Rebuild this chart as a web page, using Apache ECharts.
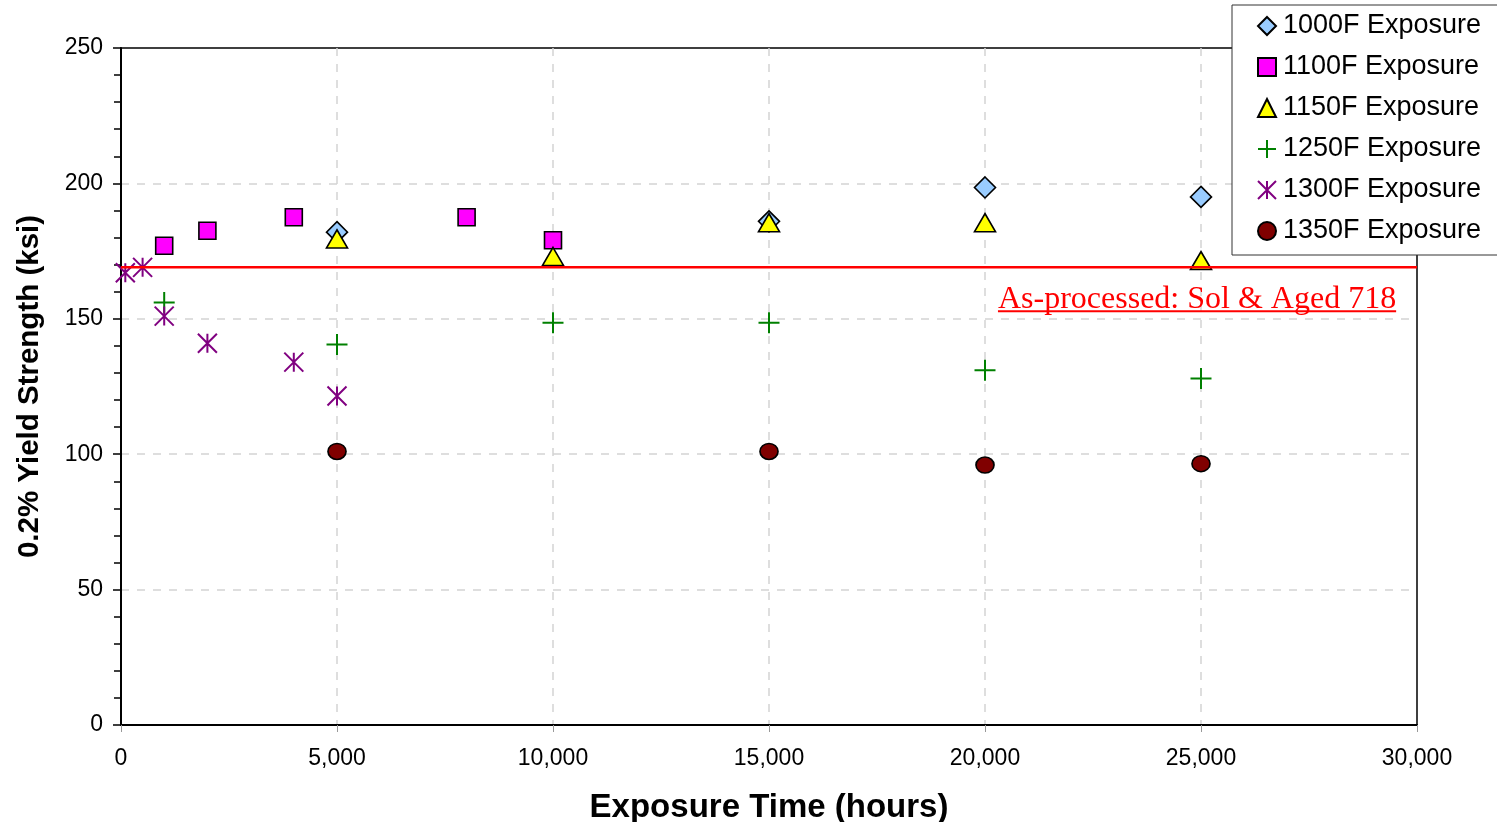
<!DOCTYPE html>
<html>
<head>
<meta charset="utf-8">
<script src="https://cdn.jsdelivr.net/npm/echarts@6/dist/echarts.min.js"></script>
<style>
  html, body { margin: 0; padding: 0; background: #fff; overflow: hidden; }
  #chart { width: 1497px; height: 822px; }
</style>
</head>
<body>
<div id="chart"></div>
<script>
// Yield strength of alloy 718 after long-term thermal exposure
const seriesNames = ['1000F Exposure', '1100F Exposure', '1150F Exposure',
                     '1250F Exposure', '1300F Exposure', '1350F Exposure'];

// [exposure hours, 0.2% yield strength ksi]
const exp1000F = [[5000, 182], [15000, 186], [20000, 198.5], [25000, 195]];
const exp1100F = [[1000, 177], [2000, 182.5], [4000, 187.5], [8000, 187.5], [10000, 179]];
const exp1150F = [[5000, 179.5], [10000, 173], [15000, 185.5], [20000, 185.5], [25000, 171.5]];
const exp1250F = [[1000, 156], [5000, 140.5], [10000, 148.5], [15000, 148.5], [20000, 131], [25000, 128]];
const exp1300F = [[100, 167], [500, 169], [1000, 151], [2000, 141], [4000, 134], [5000, 121.5]];
const exp1350F = [[5000, 101], [15000, 101], [20000, 96], [25000, 96.5]];

// As-processed (solution treated & aged) reference level
const asProcessedKsi = 169;
const asProcessedSpan = [0, 30000];
const asProcessedLabel = 'As-processed: Sol & Aged 718';

const xTicks = { min: 0, max: 30000, step: 5000 };
const yTicks = { min: 0, max: 250, step: 50 };

const SANS = '"Liberation Sans", Arial, sans-serif';
const SERIF = '"Liberation Serif", "Times New Roman", serif';

const PLUS = 'path://M10,0L10,20M0,10L20,10';
const STAR = 'path://M10,0L10,20M0,0L20,20M20,0L0,20';

function scatter(name, data, symbol, size, style) {
  return {
    name: name,
    type: 'scatter',
    data: data,
    symbol: symbol,
    symbolSize: size,
    itemStyle: Object.assign({ opacity: 1 }, style),
    emphasis: { disabled: true },
    z: 3
  };
}

const chart = echarts.init(document.getElementById('chart'), null, { renderer: 'canvas' });

const gridLine = { color: '#d4d4d4', type: [8, 8], width: 1.5 };

chart.setOption({
  animation: false,
  backgroundColor: '#ffffff',
  grid: {
    left: 121, right: 80, top: 48, bottom: 97,
    outerBoundsMode: 'none',
    show: true, borderColor: '#000', borderWidth: 1.5, backgroundColor: 'transparent'
  },
  legend: {
    data: seriesNames,
    orient: 'vertical',
    left: 1232,
    top: 5,
    padding: [6, 40, 9, 25],
    itemWidth: 18,
    itemHeight: 18,
    itemGap: 11,
    backgroundColor: '#fff',
    borderColor: '#333',
    borderWidth: 1,
    borderRadius: 0,
    textStyle: { fontFamily: SANS, fontSize: 27, color: '#000', lineHeight: 30, padding: [0, 0, 0, 2] }
  },
  xAxis: {
    type: 'value',
    min: xTicks.min, max: xTicks.max, interval: xTicks.step,
    name: 'Exposure Time (hours)',
    nameLocation: 'middle',
    nameGap: 66,
    nameTextStyle: { fontFamily: SANS, fontSize: 33, fontWeight: 'bold', color: '#000' },
    axisLine: { show: true, onZero: false, lineStyle: { color: '#000', width: 2 } },
    axisTick: { show: true, length: 7, lineStyle: { color: '#999', width: 1 } },
    axisLabel: {
      fontFamily: SANS, fontSize: 23, color: '#000', margin: 22,
      formatter: v => v.toLocaleString('en-US')
    },
    splitLine: { show: true, showMinLine: false, showMaxLine: false, lineStyle: gridLine }
  },
  yAxis: {
    type: 'value',
    min: yTicks.min, max: yTicks.max, interval: yTicks.step,
    name: '0.2% Yield Strength (ksi)',
    nameLocation: 'middle',
    nameGap: 76,
    nameTextStyle: { fontFamily: SANS, fontSize: 29.5, fontWeight: 'bold', color: '#000' },
    axisLine: { show: true, onZero: false, lineStyle: { color: '#000', width: 2 } },
    axisTick: { show: true, length: 8, lineStyle: { color: '#000', width: 1.5 } },
    minorTick: { show: true, splitNumber: 5, length: 7, lineStyle: { color: '#000', width: 1.5 } },
    axisLabel: { fontFamily: SANS, fontSize: 23, color: '#000', margin: 18 },
    splitLine: { show: true, showMinLine: false, showMaxLine: false, lineStyle: gridLine }
  },
  series: [
    scatter(seriesNames[0], exp1000F, 'diamond', [21, 21],
      { color: '#99CCFF', borderColor: '#000', borderWidth: 1.6 }),
    scatter(seriesNames[1], exp1100F, 'rect', [17, 17],
      { color: '#FF00FF', borderColor: '#000', borderWidth: 1.6 }),
    scatter(seriesNames[2], exp1150F, 'triangle', [21, 18],
      { color: '#FFFF00', borderColor: '#000', borderWidth: 1.6 }),
    scatter(seriesNames[3], exp1250F, PLUS, [21, 21],
      { color: 'transparent', borderColor: '#008000', borderWidth: 2 }),
    scatter(seriesNames[4], exp1300F, STAR, [19, 19],
      { color: 'transparent', borderColor: '#800080', borderWidth: 2 }),
    scatter(seriesNames[5], exp1350F, 'circle', [18, 16],
      { color: '#800000', borderColor: '#000', borderWidth: 1.6 }),
    {
      name: 'As-processed',
      type: 'line',
      data: asProcessedSpan.map(x => [x, asProcessedKsi]),
      symbol: 'none',
      silent: true,
      lineStyle: { color: '#FF0000', width: 2.5 },
      z: 5
    }
  ]
});

// Annotation for the reference line, underlined, just below its right end
function placeAnnotation() {
  const anchor = chart.convertToPixel({ gridIndex: 0 }, [20300, asProcessedKsi]);
  const ctx = document.createElement('canvas').getContext('2d');
  ctx.font = '32px ' + SERIF;
  const w = ctx.measureText(asProcessedLabel).width;
  const left = anchor[0];
  const top = anchor[1] + 16;
  chart.setOption({
    graphic: [
      {
        type: 'text',
        left: left,
        top: top,
        z: 10,
        style: { text: asProcessedLabel, fill: '#FF0000', font: '32px ' + SERIF }
      },
      {
        type: 'line',
        z: 10,
        shape: { x1: left, y1: top + 28, x2: left + w, y2: top + 28 },
        style: { stroke: '#FF0000', lineWidth: 2 }
      }
    ]
  });
}
placeAnnotation();
</script>
</body>
</html>
